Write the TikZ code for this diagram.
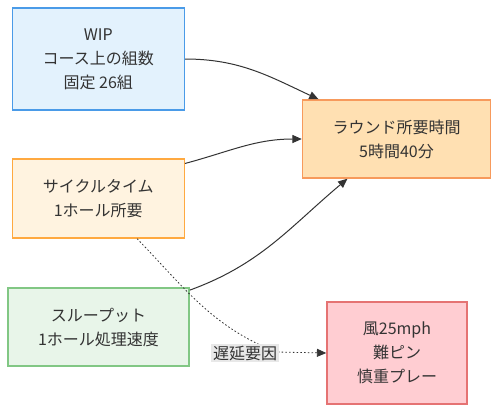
\documentclass[tikz,border=0pt]{standalone}
\usepackage{fontspec}
\setmainfont{Noto Sans CJK JP}
\usetikzlibrary{arrows.meta}

\definecolor{txt}{HTML}{333333}
\definecolor{edge}{HTML}{333333}
\definecolor{tagbg}{HTML}{E8E8E8}
\definecolor{wipfill}{HTML}{E3F2FD}
\definecolor{wipline}{HTML}{4A9BE8}
\definecolor{cycfill}{HTML}{FFF3E0}
\definecolor{cycline}{HTML}{FFA940}
\definecolor{thrfill}{HTML}{E8F5E9}
\definecolor{thrline}{HTML}{81C784}
\definecolor{rndfill}{HTML}{FFE0B2}
\definecolor{rndline}{HTML}{F79A5C}
\definecolor{rskfill}{HTML}{FFCDD2}
\definecolor{rskline}{HTML}{E57373}

\begin{document}
\begin{tikzpicture}[x=0.75pt, y=-0.75pt,
    box/.style={line width=1.1pt, align=center, text=txt, inner sep=0pt,
        font=\fontsize{12}{18}\selectfont},
    flow/.style={draw=edge, line width=0.75pt, -{Triangle[length=7pt,width=6pt]}},
    tag/.style={fill=tagbg, text=txt, inner sep=1.5pt, font=\fontsize{12}{18}\selectfont}]

    \useasboundingbox (0,0) rectangle (499,412);

    \node[box, draw=wipline, fill=wipfill, minimum width=129pt, minimum height=76.5pt] (wip) at (98.3,59) {WIP\\コース上の組数\\固定 26組};
    \node[box, draw=cycline, fill=cycfill, minimum width=129pt, minimum height=59.25pt] (cycle) at (98.3,198.5) {サイクルタイム\\1ホール所要};
    \node[box, draw=thrline, fill=thrfill, minimum width=135.75pt, minimum height=58.5pt] (thru) at (98.5,327) {スループット\\1ホール処理速度};

    \node[box, draw=rndline, fill=rndfill, minimum width=141pt, minimum height=58.5pt] (round) at (396.5,139) {ラウンド所要時間\\5時間40分};
    \node[box, draw=rskline, fill=rskfill, minimum width=105pt, minimum height=76.5pt] (risk) at (397,353) {風25mph\\難ピン\\慎重プレー};

    \draw[flow] (wip.east) to[out=0, in=155] (round.153);
    \draw[flow] (cycle.22) to[out=15, in=180] (round.west);
    \draw[flow] (thru.22) to[out=20, in=220] (round.219);

    \coordinate (dm) at (276,352);
    \draw[flow, line width=0.6pt, dash pattern=on 1.2pt off 1.6pt] (cycle.-46) to[out=-46, in=158] (dm) -- (risk.west);
    \node[tag] (delay) at (245,353) {遅延要因};

\end{tikzpicture}
\end{document}
